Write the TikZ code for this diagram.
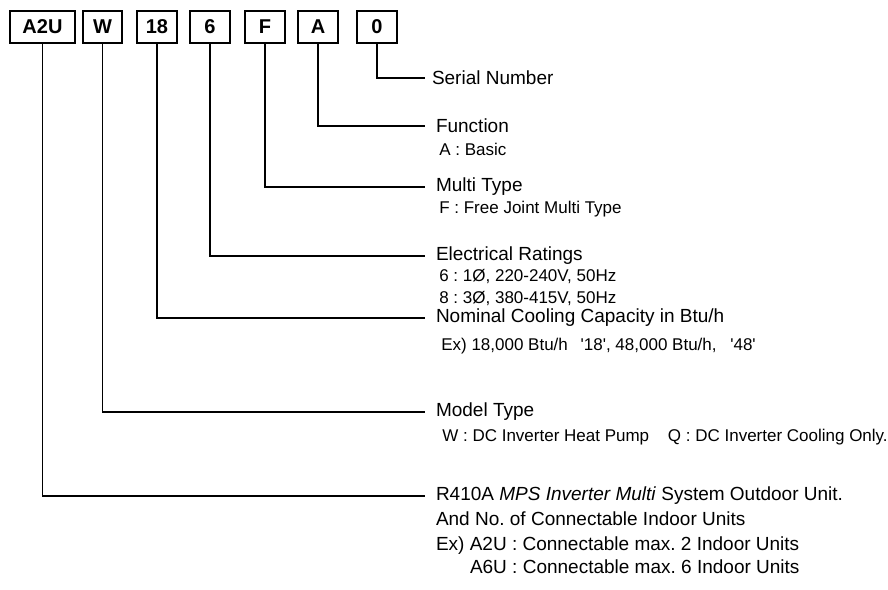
\documentclass[tikz,border=0pt]{standalone}
\usepackage{fontspec}
\setmainfont{Liberation Sans}
\usetikzlibrary{positioning}
\frenchspacing

\begin{document}
\begin{tikzpicture}[x=1pt,y=-1pt,line width=1.2pt,semithick]
        \tikzstyle{code}=[draw, line width=1.6pt, minimum height=32pt, minimum width=40pt, inner sep=0pt, font=\fontsize{20}{22}\selectfont\bfseries]
        \tikzstyle{title}=[anchor=west, inner sep=0pt, outer sep=11pt, font=\fontsize{19}{22}\selectfont]
        \tikzstyle{detail}=[anchor=west, inner sep=0pt, font=\fontsize{17}{20}\selectfont]
        \tikzstyle{wire}=[line width=1.2pt]

        \useasboundingbox (0,0) rectangle (888,589);

        % the code boxes
        \node[code, minimum width=65pt] (A2U) at (42.5,27) {A2U};
        \node[code, minimum width=39pt] (W)   at (102.5,27) {W};
        \node[code]                     (cap) at (157,27)   {18};
        \node[code]                     (pwr) at (210,27)   {6};
        \node[code]                     (F)   at (265,27)   {F};
        \node[code]                     (A)   at (318,27)   {A};
        \node[code]                     (ser) at (377,27)   {0};

        % the meanings
        \node[title, outer sep=7pt] (serial) at (425,78)  {Serial Number};
        \node[title]                (func)   at (425,126) {Function};
        \node[detail]                        at (439,149) {A : Basic};
        \node[title]                (multi)  at (425,187) {Multi Type};
        \node[detail]                        at (439,209) {F : Free Joint Multi Type};
        \node[title]                (elec)   at (425,256) {Electrical Ratings};
        \node[detail]                        at (439,276) {6 : 1Ø, 220-240V, 50Hz};
        \node[detail]                        at (439,298) {8 : 3Ø, 380-415V, 50Hz};
        \node[title]                (nom)    at (425,318) {Nominal Cooling Capacity in Btu/h};
        \node[detail]                        at (441,346) {Ex) 18,000 Btu/h \hspace{8pt}\textquotesingle18\textquotesingle, 48,000 Btu/h, \hspace{9pt}\textquotesingle48\textquotesingle};
        \node[title]                (model)  at (425,412) {Model Type};
        \node[detail]                        at (442,437) {W : DC Inverter Heat Pump \hspace{14pt}Q : DC Inverter Cooling Only.};
        \node[title]                (unit)   at (425,496) {R410A \textit{MPS Inverter Multi} System Outdoor Unit.};
        \node[title, anchor=north west, outer sep=0pt] (conn) at (436,512) {And No. of Connectable Indoor Units};
        \node[title, anchor=north west, outer sep=0pt] (ex1)  at (436,537) {Ex) A2U : Connectable max. 2 Indoor Units};
        \node[title, anchor=north west, outer sep=0pt] (ex2)  at (470,560) {A6U : Connectable max. 6 Indoor Units};

        \draw[wire] (ser.south) |- (serial.west);
        \draw[wire] (A.south)   |- (func.west);
        \draw[wire] (F.south)   |- (multi.west);
        \draw[wire] (pwr.south) |- (elec.west);
        \draw[wire] (cap.south) |- (nom.west);
        \draw[wire] (W.south)   |- (model.west);
        \draw[wire] (A2U.south) |- (unit.west);
      \end{tikzpicture}
\end{document}
